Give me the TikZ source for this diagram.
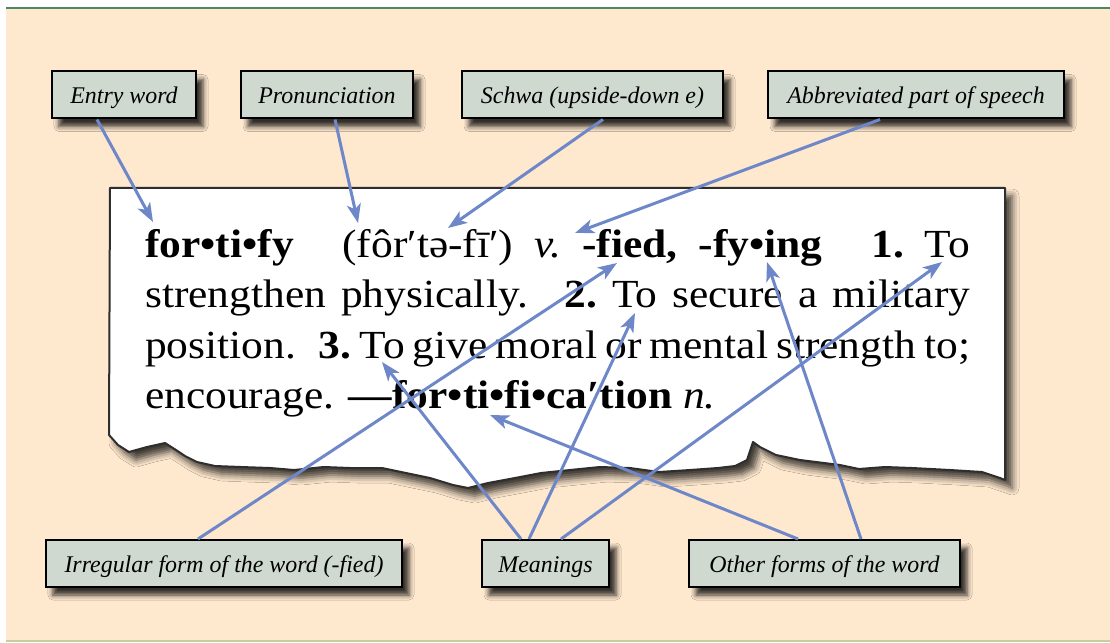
\documentclass[tikz,border=0pt]{standalone}
\usepackage{fontspec}
\setmainfont{Liberation Serif}
\newfontfamily\paperfont[FakeStretch=1.09]{Liberation Serif}
\usetikzlibrary{arrows.meta,shadows.blur}
\definecolor{peach}{HTML}{FEE8CE}
\definecolor{boxfill}{HTML}{CFD9D0}
\definecolor{arrowblue}{HTML}{6E87C8}
\definecolor{topgreen}{HTML}{4A8A5E}
\definecolor{botgreen}{HTML}{C2CF9E}
\definecolor{paperedge}{HTML}{2E2E2E}
\newcommand\wsp{\hskip 0.12em plus 1fil\relax}
\newcommand\bgap{\hskip 0.4em plus 2fil\relax}
\tikzset{
  lbl/.style={draw=black, line width=2bp, fill=boxfill, minimum height=47bp,
    inner sep=0pt, text height=19bp, text depth=2bp,
    font=\fontsize{24}{27}\selectfont\itshape,
    blur shadow={shadow xshift=7bp, shadow yshift=-8bp, shadow blur radius=5bp,
      shadow opacity=80}},
  txt/.style={anchor=base west, inner sep=0pt, font=\paperfont\fontsize{40}{50}\selectfont},
  arr/.style={draw=arrowblue, line width=3bp, -{Stealth[length=19bp,width=14bp,inset=5bp]}},
}
\begin{document}
\begin{tikzpicture}[x=1bp,y=-1bp]
\useasboundingbox (0,0) rectangle (1110,643);
\fill[white] (0,0) rectangle (1110,643);
\fill[peach] (6,8) rectangle (1110,641);
\draw[topgreen, line width=2bp] (6,8) -- (1110,8);
\draw[botgreen, line width=2bp] (6,641) -- (1110,641);

% torn paper
\path[fill=white, draw=paperedge, line width=2bp, line join=round,
  blur shadow={shadow xshift=7bp, shadow yshift=-8bp, shadow blur radius=7bp,
    shadow opacity=75}]
  (110,188) -- (1005,188) -- (1005,480) -- (1000,478) -- (982,472) -- (950,470)
  -- (912,468) -- (885,467) -- (859,469) -- (840,465) -- (824,463) -- (800,460)
  -- (776,455) -- (760,447) -- (753,442) -- (747,460) -- (735,466) -- (718,468)
  -- (690,470) -- (659,472) -- (630,468) -- (600,467) -- (570,470) -- (541,473)
  -- (515,478) -- (488,483) -- (468,488) -- (453,485) -- (430,478) -- (406,473)
  -- (382,468) -- (350,468) -- (324,467) -- (294,470) -- (270,468) -- (241,467)
  -- (215,466) -- (197,462) -- (185,456) -- (176,450) -- (165,443) -- (147,447)
  -- (129,452) -- (118,445) -- (109,435) -- cycle;

\node[txt] (l1) at (145,258) {\hbox to 825bp{\textbf{for•ti•fy}\bgap(fôr′tə-fī′)\wsp\textit{v.}\wsp\textbf{-fied,}\wsp\textbf{-fy•ing}\bgap\textbf{1.}\wsp To}};
\node[txt] (l2) at (145,308) {\hbox to 825bp{strengthen\wsp physically.\bgap\textbf{2.}\wsp To\wsp secure\wsp a\wsp military}};
\node[txt] (l3) at (145,358) {\hbox to 825bp{position.\bgap\textbf{3.}\wsp To\wsp give\wsp moral\wsp or\wsp mental\wsp strength\wsp to;}};
\node[txt] (l4) at (145,408) {encourage. \textbf{—for•ti•fi•ca′tion} \textit{n.}};

% label boxes
\node[lbl, minimum width=144bp] (entry) at (124,95) {Entry word};
\node[lbl, minimum width=172bp] (pron) at (327,95) {Pronunciation};
\node[lbl, minimum width=261bp] (schwa) at (592.5,95) {Schwa (upside-down e)};
\node[lbl, minimum width=296bp] (abbr) at (916,95) {Abbreviated part of speech};
\node[lbl, minimum width=356bp] (irr) at (224,563.5) {Irregular form of the word (-fied)};
\node[lbl, minimum width=127bp] (mean) at (545.5,563.5) {Meanings};
\node[lbl, minimum width=271bp] (other) at (824.5,563.5) {Other forms of the word};

% arrow targets
\coordinate (tEntry) at (153,222);
\coordinate (tPron) at (358,223);
\coordinate (tSchwa) at (448,228);
\coordinate (tAbbr) at (575,233);
\coordinate (tIrr) at (617,263);
\coordinate (tGive) at (382,362);
\coordinate (tSecure) at (635,313);
\coordinate (tTo) at (942,262);
\coordinate (tFying) at (767,262);
\coordinate (tFica) at (490,415);

\draw[arr] ([xshift=-27bp]entry.south) -- (tEntry);
\draw[arr] ([xshift=8bp]pron.south) -- (tPron);
\draw[arr] ([xshift=10.5bp]schwa.south) -- (tSchwa);
\draw[arr] ([xshift=-36bp]abbr.south) -- (tAbbr);
\draw[arr] ([xshift=-26bp]irr.north) -- (tIrr);
\draw[arr] ([xshift=-24.5bp]mean.north) -- (tGive);
\draw[arr] ([xshift=-16.5bp]mean.north) -- (tSecure);
\draw[arr] ([xshift=15.5bp]mean.north) -- (tTo);
\draw[arr] ([xshift=-26.5bp]other.north) -- (tFica);
\draw[arr] ([xshift=36.5bp]other.north) -- (tFying);
\end{tikzpicture}
\end{document}
